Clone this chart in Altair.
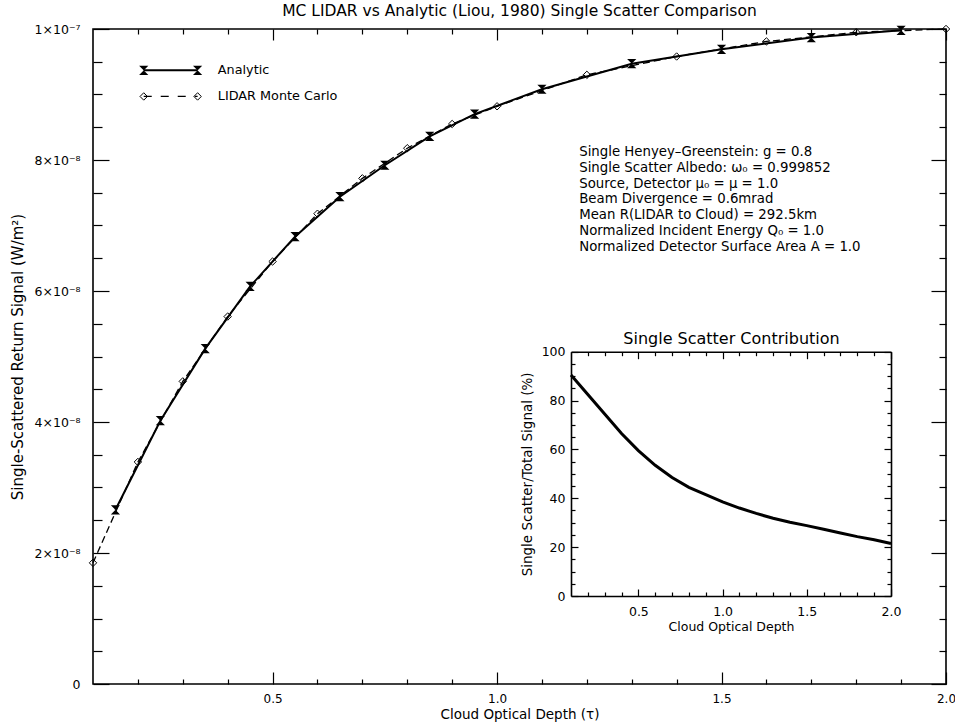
import altair as alt
import pandas as pd

FONT = "DejaVu Sans"

# ---------------- data ----------------
analytic_tau = [0.15, 0.25, 0.35, 0.45, 0.55, 0.65, 0.75, 0.85, 0.95, 1.1, 1.3, 1.5, 1.7, 1.9]
analytic_signal = [2.66e-8, 4.02e-8, 5.12e-8, 6.07e-8, 6.83e-8, 7.44e-8, 7.92e-8, 8.36e-8,
                   8.70e-8, 9.08e-8, 9.47e-8, 9.69e-8, 9.87e-8, 9.98e-8]

mc_tau = [0.1, 0.2, 0.3, 0.4, 0.5, 0.6, 0.7, 0.8, 0.9, 1.0, 1.2, 1.4, 1.6, 1.8, 2.0]
mc_signal = [1.85e-8, 3.39e-8, 4.62e-8, 5.61e-8, 6.45e-8, 7.18e-8, 7.72e-8, 8.18e-8,
             8.55e-8, 8.82e-8, 9.30e-8, 9.58e-8, 9.81e-8, 9.95e-8, 10.0e-8]

inset_tau = [0.1, 0.2, 0.3, 0.4, 0.5, 0.6, 0.7, 0.8, 0.9, 1.0,
             1.1, 1.2, 1.3, 1.4, 1.5, 1.6, 1.7, 1.8, 1.9, 2.0]
inset_pct = [90.5, 82.5, 74.5, 66.5, 59.5, 53.5, 48.5, 44.5, 41.5, 38.5,
             36.0, 33.8, 31.8, 30.2, 28.8, 27.3, 25.8, 24.3, 23.0, 21.5]

main_x_major = [0.5, 1.0, 1.5, 2.0]
main_x_minor = [0.2, 0.3, 0.4, 0.6, 0.7, 0.8, 0.9, 1.1, 1.2, 1.3, 1.4, 1.6, 1.7, 1.8, 1.9]
main_y_major = [0, 2e-8, 4e-8, 6e-8, 8e-8, 1e-7]
main_y_minor = [5e-9, 1e-8, 1.5e-8, 2.5e-8, 3e-8, 3.5e-8, 4.5e-8, 5e-8, 5.5e-8, 6.5e-8,
                7e-8, 7.5e-8, 8.5e-8, 9e-8, 9.5e-8]

inset_x_major = [0.5, 1.0, 1.5, 2.0]
inset_x_minor = [0.2, 0.3, 0.4, 0.6, 0.7, 0.8, 0.9, 1.1, 1.2, 1.3, 1.4, 1.6, 1.7, 1.8, 1.9]
inset_y_major = [0, 20, 40, 60, 80, 100]
inset_y_minor = [5, 10, 15, 25, 30, 35, 45, 50, 55, 65, 70, 75, 85, 90, 95]

series_names = ["Analytic", "LIDAR Monte Carlo"]
legend_x = [0.213, 0.333]
legend_y = [9.37e-8, 8.97e-8]
legend_text_x = 0.378

notes = [
    "Single Henyey–Greenstein: g = 0.8",
    "Single Scatter Albedo: ω₀ = 0.999852",
    "Source, Detector μ₀ = μ = 1.0",
    "Beam Divergence = 0.6mrad",
    "Mean R(LIDAR to Cloud) = 292.5km",
    "Normalized Incident Energy Q₀ = 1.0",
    "Normalized Detector Surface Area A = 1.0",
]
notes_x = 1.183
notes_y = 8.23e-8

# ---------------- layout ----------------
W, H = 853, 655
INSET_L, INSET_R = 478, 798
INSET_T, INSET_B = 322.7, 567

HOURGLASS = "M-1,-1L1,-1L-1,1L1,1Z"

mx = alt.Scale(domain=[0.1, 2.0], nice=False, zero=False)
my = alt.Scale(domain=[0, 1e-7], nice=False, zero=False)
ix = alt.Scale(domain=[0.1, 2.0], range=[INSET_L, INSET_R], nice=False, zero=False)
iy = alt.Scale(domain=[0, 100], range=[INSET_B, INSET_T], nice=False, zero=False)


def tick_axis(orient, values, size, base=0, width=1.2):
    return alt.Axis(orient=orient, values=values, tickSize=size, offset=-(base + size),
                    labels=False, domain=False, grid=False, title="",
                    tickColor="black", tickWidth=width)


def frame_axis(orient, base):
    return alt.Axis(orient=orient, offset=-base, labels=False, ticks=False, domain=True,
                    domainColor="black", domainWidth=1.6, grid=False, title="")


analytic_df = pd.DataFrame({"tau": analytic_tau, "signal": analytic_signal})
mc_df = pd.DataFrame({"tau": mc_tau, "signal": mc_signal})
inset_df = pd.DataFrame({"tau": inset_tau, "pct": inset_pct})

ylabel_expr = ("datum.value == 0 ? '0' : datum.value > 9.9e-8 ? '1×10⁻⁷' : "
               "format(datum.value * 1e8, 'd') + '×10⁻⁸'")

# ---------------- main layers ----------------
L1 = alt.Chart(analytic_df).mark_line(color="black", strokeWidth=2).encode(
    x=alt.X("tau:Q", scale=mx, axis=alt.Axis(
        orient="bottom", values=main_x_major, format=".1f", ticks=False, domain=False,
        labelPadding=9, labelFlush=False, labelFontSize=12, grid=False,
        title="Cloud Optical Depth (τ)", titleFontSize=13.5, titlePadding=3)),
    y=alt.Y("signal:Q", scale=my, axis=alt.Axis(
        orient="left", values=main_y_major, labelExpr=ylabel_expr, ticks=False, domain=False,
        labelPadding=13, labelFontSize=12.5, grid=False,
        title="Single-Scattered Return Signal (W/m²)", titleFontSize=15, titlePadding=9)),
)

L2 = alt.Chart(mc_df).mark_line(color="black", strokeWidth=1.3, strokeDash=[7, 4]).encode(
    x=alt.X("tau:Q", scale=mx, axis=tick_axis("bottom", main_x_major, 12)),
    y=alt.Y("signal:Q", scale=my, axis=tick_axis("left", main_y_major, 16)),
)

L3 = alt.Chart(analytic_df).mark_point(shape=HOURGLASS, filled=True, color="black",
                                       size=85, opacity=1).encode(
    x=alt.X("tau:Q", scale=mx, axis=tick_axis("bottom", main_x_minor, 5)),
    y=alt.Y("signal:Q", scale=my, axis=tick_axis("left", main_y_minor, 9)),
)

L4 = alt.Chart(mc_df).mark_point(shape="diamond", filled=False, color="black",
                                 size=55, strokeWidth=1, opacity=1).encode(
    x=alt.X("tau:Q", scale=mx, axis=tick_axis("top", main_x_major, 11)),
    y=alt.Y("signal:Q", scale=my, axis=tick_axis("right", main_y_major, 15)),
)

L5 = alt.Chart(mc_df).mark_line(strokeOpacity=0).encode(
    x=alt.X("tau:Q", scale=mx, axis=tick_axis("top", main_x_minor, 5)),
    y=alt.Y("signal:Q", scale=my, axis=tick_axis("right", main_y_minor, 7)),
)

# ---------------- legend ----------------
leg_rows = []
for name, yy in zip(series_names, legend_y):
    for xx in legend_x:
        leg_rows.append({"series": name, "x": xx, "y": yy})
leg_df = pd.DataFrame(leg_rows)
leg_a = leg_df[leg_df.series == series_names[0]]
leg_m = leg_df[leg_df.series == series_names[1]]

lx = alt.X("x:Q", scale=mx, axis=None)
ly = alt.Y("y:Q", scale=my, axis=None)

LG1 = alt.Chart(leg_a).mark_line(color="black", strokeWidth=2).encode(x=lx, y=ly)
LG2 = alt.Chart(leg_a).mark_point(shape=HOURGLASS, filled=True, color="black",
                                  size=85, opacity=1).encode(x=lx, y=ly)
LG3 = alt.Chart(leg_m).mark_line(color="black", strokeWidth=1.3, strokeDash=[8, 9]).encode(x=lx, y=ly)
LG4 = alt.Chart(leg_m).mark_point(shape="diamond", filled=False, color="black",
                                  size=55, strokeWidth=1, opacity=1).encode(x=lx, y=ly)
leg_text_df = pd.DataFrame({"x": [legend_text_x, legend_text_x], "y": legend_y,
                            "label": series_names})
LG5 = alt.Chart(leg_text_df).mark_text(align="left", baseline="middle", font=FONT,
                                       fontSize=12.8, color="black").encode(
    x=lx, y=ly, text="label:N")

# ---------------- notes ----------------
NT = alt.Chart(pd.DataFrame({"a": [0]})).mark_text(
    align="left", baseline="top", font=FONT, fontSize=13.3, lineHeight=15.8, color="black"
).encode(
    x=alt.X(datum=notes_x, type="quantitative", scale=mx, axis=None),
    y=alt.Y(datum=notes_y, type="quantitative", scale=my, axis=None),
    text=alt.value(notes),
)

# ---------------- inset ----------------
I1 = alt.Chart(inset_df).mark_line(color="black", strokeWidth=3).encode(
    x=alt.X("tau:Q", scale=ix, axis=alt.Axis(
        orient="bottom", offset=-(H - INSET_B), values=inset_x_major, format=".1f",
        ticks=False, domain=True, domainColor="black", domainWidth=1.6,
        labelPadding=9, labelFlush=False, labelFontSize=12.5, grid=False,
        title="Cloud Optical Depth", titleFontSize=12.5, titlePadding=3)),
    y=alt.Y("pct:Q", scale=iy, axis=alt.Axis(
        orient="left", offset=-INSET_L, values=inset_y_major, format="d",
        ticks=False, domain=True, domainColor="black", domainWidth=1.6,
        labelPadding=6, labelFontSize=12.5, grid=False,
        title="Single Scatter/Total Signal (%)", titleFontSize=13.5, titlePadding=7)),
)

I2 = alt.Chart(inset_df).mark_line(strokeOpacity=0).encode(
    x=alt.X("tau:Q", scale=ix, axis=tick_axis("bottom", inset_x_major, 7, H - INSET_B)),
    y=alt.Y("pct:Q", scale=iy, axis=tick_axis("left", inset_y_major, 7, INSET_L)),
)
I3 = alt.Chart(inset_df).mark_line(strokeOpacity=0).encode(
    x=alt.X("tau:Q", scale=ix, axis=tick_axis("bottom", inset_x_minor, 4, H - INSET_B)),
    y=alt.Y("pct:Q", scale=iy, axis=tick_axis("left", inset_y_minor, 4, INSET_L)),
)
I4 = alt.Chart(inset_df).mark_line(strokeOpacity=0).encode(
    x=alt.X("tau:Q", scale=ix, axis=alt.Axis(
        orient="top", offset=-INSET_T, labels=False, ticks=False, domain=True,
        domainColor="black", domainWidth=1.6, grid=False,
        title="Single Scatter Contribution", titleFontSize=16, titlePadding=5)),
    y=alt.Y("pct:Q", scale=iy, axis=frame_axis("right", W - INSET_R)),
)
I5 = alt.Chart(inset_df).mark_line(strokeOpacity=0).encode(
    x=alt.X("tau:Q", scale=ix, axis=tick_axis("top", inset_x_major, 7, INSET_T)),
    y=alt.Y("pct:Q", scale=iy, axis=tick_axis("right", inset_y_major, 7, W - INSET_R)),
)
I6 = alt.Chart(inset_df).mark_line(strokeOpacity=0).encode(
    x=alt.X("tau:Q", scale=ix, axis=tick_axis("top", inset_x_minor, 4, INSET_T)),
    y=alt.Y("pct:Q", scale=iy, axis=tick_axis("right", inset_y_minor, 4, W - INSET_R)),
)

chart = alt.layer(
    L1, L2, L3, L4, L5, LG1, LG2, LG3, LG4, LG5, NT, I1, I2, I3, I4, I5, I6
).resolve_scale(
    x="independent", y="independent"
).properties(
    width=W, height=H,
    autosize=alt.AutoSizeParams(type="none"),
    padding={"left": 93, "top": 29, "right": 9, "bottom": 42},
    title=alt.TitleParams(
        "MC LIDAR vs Analytic (Liou, 1980) Single Scatter Comparison",
        font=FONT, fontSize=15.5, fontWeight="normal", color="black",
        frame="group", anchor="middle", offset=4),
    background="white",
).configure_view(
    stroke="black", strokeWidth=1.6
).configure_axis(
    labelFont=FONT, titleFont=FONT, labelColor="black", titleColor="black",
    titleFontWeight="normal", tickColor="black", domainColor="black", grid=False
)

chart.save("out.html", embed_options={"renderer": "svg", "actions": False})
